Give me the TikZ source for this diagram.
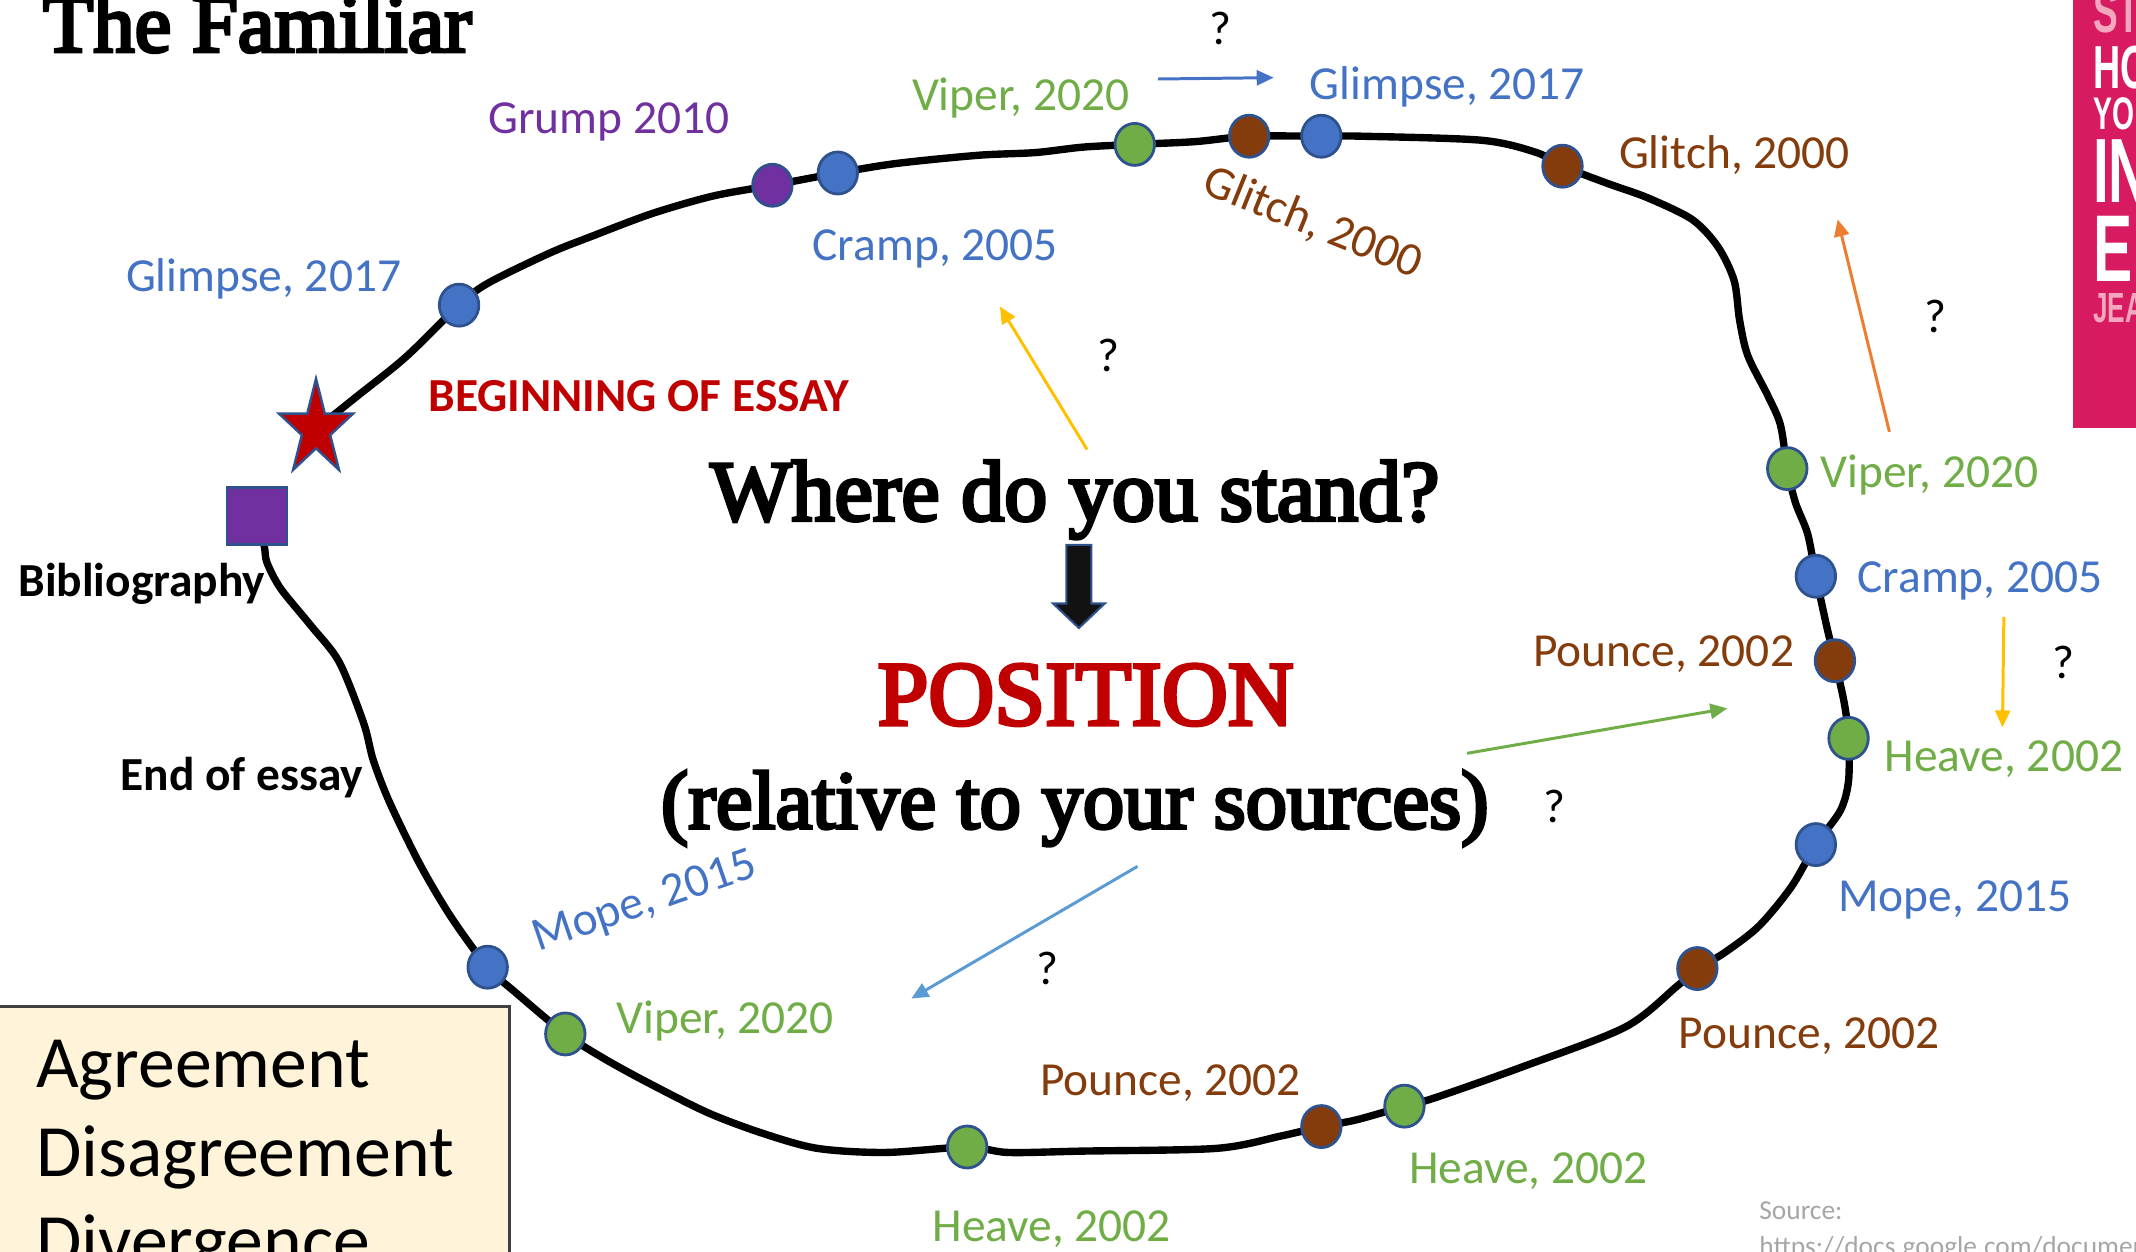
\documentclass[tikz,border=0pt]{standalone}
\usepackage{fontspec}
\setmainfont{Carlito}
\newfontfamily\timesfont[FakeBold=4]{Liberation Serif}
\newfontfamily\coverfont[FakeStretch=0.62]{Liberation Sans}
\usepackage{tikz}
\usetikzlibrary{shapes, arrows.meta, backgrounds}
\definecolor{srcblue}{HTML}{4472C4}
\definecolor{srcgreen}{HTML}{70AD47}
\definecolor{srcbrown}{HTML}{843C0C}
\definecolor{srcpurple}{HTML}{7030A0}
\definecolor{essayred}{HTML}{C00000}
\definecolor{edgeblue}{HTML}{2F528F}
\definecolor{arrorange}{HTML}{ED7D31}
\definecolor{arryellow}{HTML}{FFC000}
\definecolor{arrlight}{HTML}{5B9BD5}
\definecolor{boxcream}{HTML}{FFF4DA}
\definecolor{coverpink}{HTML}{D81A60}
\definecolor{coverrose}{HTML}{F2A7BF}
\definecolor{srcgray}{HTML}{A6A6A6}
\tikzstyle{src} = [ellipse, minimum width=0.395cm, minimum height=0.42cm, inner sep=0, draw=edgeblue, line width=0.8pt]
\tikzstyle{dotblue} = [src, fill=srcblue]
\tikzstyle{dotgreen} = [src, fill=srcgreen]
\tikzstyle{dotbrown} = [src, fill=srcbrown]
\tikzstyle{dotpurple} = [src, fill=srcpurple]
\tikzstyle{lbl} = [font=\fontsize{13.5}{16}\selectfont, inner sep=0, anchor=base west]
\tikzstyle{boldlbl} = [lbl, font=\fontsize{13.5}{16}\selectfont\bfseries]
\tikzstyle{qmark} = [font=\fontsize{13.5}{16}\selectfont, inner sep=0]
\tikzstyle{bigserif} = [inner sep=0, anchor=base]
\tikzstyle{thinarrow} = [line width=0.85pt, -{Triangle[length=1.7mm, width=1.5mm]}]
\tikzstyle{essayline} = [line width=2.1pt, line join=round, line cap=round]
\tikzstyle{boxtext} = [font=\fontsize{21}{25}\selectfont, inner sep=0, anchor=base west]
\tikzstyle{covertext} = [inner sep=0, anchor=base west]

\begin{document}
\begin{tikzpicture}[x=0.013622cm, y=-0.013622cm]
\useasboundingbox (0,0) rectangle (1568,919);
\clip (0,0) rectangle (1568,919);

% title and book cover
\node (title) [inner sep=0, anchor=base west, font=\timesfont\fontsize{23.5}{28}\selectfont] at (31,38) {The Familiar};
\fill[coverpink] (1522,-5) rectangle (1575,314);
\node (cov1) [covertext, text=coverrose, font=\coverfont\bfseries\fontsize{17}{20}\selectfont] at (1536,24) {ST};
\node (cov2) [covertext, text=white, font=\coverfont\bfseries\fontsize{17.3}{20}\selectfont] at (1536,65) {HO};
\node (cov3) [covertext, text=white, font=\coverfont\bfseries\fontsize{13}{15}\selectfont] at (1536,95) {YO};
\node (cov4) [covertext, text=white, font=\coverfont\bfseries\fontsize{26}{30}\selectfont] at (1536,149) {IN};
\node (cov5) [covertext, text=white, font=\coverfont\bfseries\fontsize{27}{30}\selectfont] at (1536,207) {E};
\node (cov6) [covertext, text=coverrose, font=\coverfont\bfseries\fontsize{12}{14}\selectfont] at (1536,237) {JEA};

% start and end of the essay
\begin{scope}[shift={(232,315)}, yscale=1.29]
\node (start) [star, star points=5, star point ratio=2.618, minimum size=0.78cm, inner sep=0, fill=essayred, draw=edgeblue, line width=0.7pt, transform shape] at (0,0) {};
\end{scope}
\node (biblio) [rectangle, minimum width=0.6cm, minimum height=0.57cm, inner sep=0, fill=srcpurple, draw=edgeblue, line width=0.8pt] at (188.7,379) {};

% sources along the essay
\node (gl1) [dotblue] at (337,224) {};
\node (gr) [dotpurple] at (567,136) {};
\node (cr1) [dotblue] at (615,127) {};
\node (vp1) [dotgreen] at (833,106) {};
\node (gt1) [dotbrown] at (917,100) {};
\node (gs2) [dotblue] at (970,100) {};
\node (gt2) [dotbrown] at (1147,122) {};
\node (vp2) [dotgreen] at (1312,344) {};
\node (cr2) [dotblue] at (1333,423) {};
\node (po1) [dotbrown] at (1347,485) {};
\node (hv1) [dotgreen] at (1357,542) {};
\node (mp1) [dotblue] at (1333,620) {};
\node (po2) [dotbrown] at (1246,711) {};
\node (hv2) [dotgreen] at (1031,812) {};
\node (po3) [dotbrown] at (970,827) {};
\node (hv3) [dotgreen] at (710,842) {};
\node (vp3) [dotgreen] at (415,759) {};
\node (mp2) [dotblue] at (358,710) {};

\begin{pgfonlayer}{background}
\draw [essayline] plot[smooth, tension=0.5] coordinates {(start.center) (262,291) (298,262) (gl1.center) (358,208) (403,186) (433,174) (478,157) (523,144) (gr.center) (cr1.center) (658,120) (718,114) (760,112) (795,108) (vp1.center) (877,104) (gt1.center) (gs2.center) (1000,100) (1088,103) (1128,112) (gt2.center) (1181,135) (1209,145) (1242,161) (1261,181) (1273,206) (1277,235) (1283,261) (1298,291) (1307,312) (vp2.center) (1318,369) (1327,392) (cr2.center) (1341,460) (po1.center) (1354,517) (hv1.center) (1357,573) (1351,595) (mp1.center) (1315,651) (1291,680) (1265,700) (po2.center) (1231,724) (1193,754) (1118,783) (1053,806) (hv2.center) (996,822) (po3.center) (940,834) (893,843) (795,845) (740,846) (hv3.center) (650,846) (600,843) (560,832) (520,817) (478,796) (445,778) (vp3.center) (379,729) (mp2.center) (331,673) (308,634) (286,589) (274,558) (267,531) (249,486) (228,459) (206,432) (196,413) (194,401) (biblio.center)};
\end{pgfonlayer}

% labels
\node (lgl1) [lbl, text=srcblue] at (92,214) {Glimpse, 2017};
\node (lgr) [lbl, text=srcpurple] at (358,98) {Grump 2010};
\node (lcr1) [lbl, text=srcblue] at (596,191) {Cramp, 2005};
\node (lvp1) [lbl, text=srcgreen] at (669,81) {Viper, 2020};
\node (lgt1) [lbl, text=srcbrown, rotate=-22] at (881,141) {Glitch, 2000};
\node (lgs2) [lbl, text=srcblue] at (961,73) {Glimpse, 2017};
\node (lgt2) [lbl, text=srcbrown] at (1188,124) {Glitch, 2000};
\node (lvp2) [lbl, text=srcgreen] at (1336,358) {Viper, 2020};
\node (lcr2) [lbl, text=srcblue] at (1363,435) {Cramp, 2005};
\node (lpo1) [lbl, text=srcbrown] at (1125,489) {Pounce, 2002};
\node (lhv1) [lbl, text=srcgreen] at (1383,566) {Heave, 2002};
\node (lmp1) [lbl, text=srcblue] at (1349,669) {Mope, 2015};
\node (lpo2) [lbl, text=srcbrown] at (1232,770) {Pounce, 2002};
\node (lhv2) [lbl, text=srcgreen] at (1034,869) {Heave, 2002};
\node (lpo3) [lbl, text=srcbrown] at (763,804) {Pounce, 2002};
\node (lhv3) [lbl, text=srcgreen] at (684,911) {Heave, 2002};
\node (lvp3) [lbl, text=srcgreen] at (452,759) {Viper, 2020};
\node (lmp2) [lbl, text=srcblue, rotate=19] at (395,699) {Mope, 2015};
\node (lstart) [boldlbl, text=essayred] at (314,302) {BEGINNING OF ESSAY};
\node (lbib) [boldlbl] at (13,438) {Bibliography};
\node (lend) [boldlbl] at (88,580) {End of essay};

% the question in the middle
\node (stand) [bigserif, font=\timesfont\fontsize{24.5}{28}\selectfont] at (789,382) {Where do you stand?};
\coordinate (downarrow) at (792,400);
\begin{scope}[shift={(downarrow)}]
\filldraw [fill=black!93, draw=edgeblue, line width=0.6pt] (-9.2,0) -- (9.2,0) -- (9.2,43) -- (19,43) -- (0,61) -- (-19,43) -- (-9.2,43) -- cycle;
\end{scope}
\node (position) [bigserif, text=essayred, font=\timesfont\fontsize{26}{30}\selectfont] at (797,532) {POSITION};
\node (relative) [bigserif, font=\timesfont\fontsize{23.5}{28}\selectfont] at (789,608) {(relative to your sources)};

% directions
\coordinate (a1s) at (850,58);
\coordinate (a1e) at (935,57);
\coordinate (a2s) at (798,330);
\coordinate (a2e) at (734,225);
\coordinate (a3s) at (1387,317);
\coordinate (a3e) at (1349,161);
\coordinate (a4s) at (1471,453);
\coordinate (a4e) at (1470,534);
\coordinate (a5s) at (1077,553);
\coordinate (a5e) at (1268,520);
\coordinate (a6s) at (835,636);
\coordinate (a6e) at (669,733);
\draw [thinarrow, srcblue] (a1s) -- (a1e);
\draw [thinarrow, arryellow] (a2s) -- (a2e);
\draw [thinarrow, arrorange] (a3s) -- (a3e);
\draw [thinarrow, arryellow] (a4s) -- (a4e);
\draw [thinarrow, srcgreen] (a5s) -- (a5e);
\draw [thinarrow, arrlight] (a6s) -- (a6e);
\node (q1) [qmark] at (896,21) {?};
\node (q2) [qmark] at (814,261) {?};
\node (q3) [qmark] at (1421,232) {?};
\node (q4) [qmark] at (1515,486) {?};
\node (q5) [qmark] at (1141,592) {?};
\node (q6) [qmark] at (769,711) {?};

% terms box and source
\draw [fill=boxcream, draw=black!75, line width=0.8pt] (-5,739) rectangle (374,960);
\node (agree) [boxtext] at (26,798) {Agreement};
\node (disagree) [boxtext] at (26,864) {Disagreement};
\node (diverge) [boxtext] at (26,929) {Divergence};
\node (source1) [lbl, text=srcgray, font=\fontsize{7.8}{9}\selectfont] at (1291,895) {Source:};
\node (source2) [lbl, text=srcgray, font=\fontsize{7.8}{9}\selectfont] at (1291,922) {https://docs.google.com/document};
\end{tikzpicture}
\end{document}
